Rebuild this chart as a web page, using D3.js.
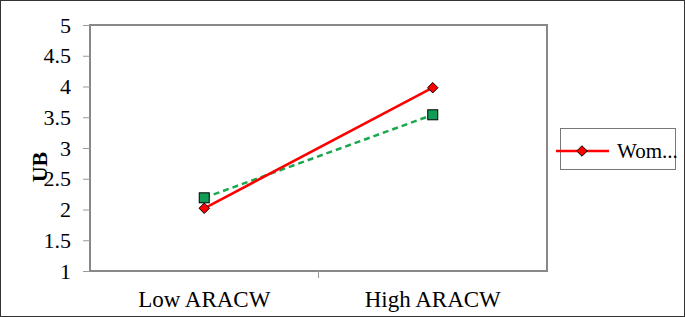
<!DOCTYPE html>
<html>
<head>
<meta charset="utf-8">
<script src="https://cdn.jsdelivr.net/npm/d3@7"></script>
<style>
  body { margin: 0; background: #fff; }
  svg { display: block; font-family: "Liberation Serif", "Times New Roman", serif; }
</style>
</head>
<body>
<svg width="685" height="317"></svg>
<script>
const categories = ['Low ARACW', 'High ARACW']
const women = [2.02, 3.98]
const men = [2.19, 3.54]
const yTicks = [1, 1.5, 2, 2.5, 3, 3.5, 4, 4.5, 5]

const svg = d3.select('svg')
const width = +svg.attr('width')
const height = +svg.attr('height')

// outer frame
svg.append('rect')
  .attr('x', 0.5).attr('y', 0.5)
  .attr('width', width - 1).attr('height', height - 1)
  .attr('fill', '#fff').attr('stroke', '#333')

const margin = { top: 25, right: 138, bottom: 46, left: 90 }
const innerWidth = width - margin.left - margin.right
const innerHeight = height - margin.top - margin.bottom

const g = svg.append('g')
  .attr('transform', `translate(${margin.left}, ${margin.top})`)

const xScale = d3.scaleBand().domain(categories).range([0, innerWidth])
const yScale = d3.scaleLinear().domain([1, 5]).range([innerHeight, 0])

// plot frame
g.append('rect')
  .attr('width', innerWidth).attr('height', innerHeight)
  .attr('fill', '#fff').attr('stroke', '#888').attr('stroke-width', 2)

const yAxis = d3.axisLeft(yScale).tickValues(yTicks).tickSize(7).tickPadding(12)
  .tickFormat(d3.format('~g'))
const yAxisG = g.append('g').call(yAxis)
yAxisG.select('.domain').remove()
yAxisG.selectAll('line').attr('stroke', '#999')
yAxisG.selectAll('text').attr('font-size', 22).attr('fill', '#000')
  .attr('font-family', '"Liberation Serif", serif')

const xAxis = d3.axisBottom(xScale).tickSize(0).tickPadding(20)
const xAxisG = g.append('g').attr('transform', `translate(0, ${innerHeight})`).call(xAxis)
xAxisG.select('.domain').remove()
xAxisG.selectAll('text').attr('font-size', 23).attr('fill', '#000')
  .attr('font-family', '"Liberation Serif", serif')

// category boundary ticks
g.selectAll('.btick').data([innerWidth / 2])
  .enter().append('line')
  .attr('x1', d => d).attr('x2', d => d)
  .attr('y1', innerHeight).attr('y2', innerHeight + 7)
  .attr('stroke', '#999')

g.append('text')
  .attr('transform', `translate(${39 - margin.left}, ${167 - margin.top}) rotate(-90)`)
  .attr('text-anchor', 'middle')
  .attr('dy', '0.35em')
  .attr('font-size', 22).attr('font-weight', 'bold')
  .text('UB')

const xc = d => xScale(d) + xScale.bandwidth() / 2
const line = d3.line().x(d => xc(d[0])).y(d => yScale(d[1]))

const menPts = categories.map((c, i) => [c, men[i]])
const womenPts = categories.map((c, i) => [c, women[i]])

g.append('path').datum(menPts).attr('d', line)
  .attr('fill', 'none').attr('stroke', '#1aa84f').attr('stroke-width', 2.5)
  .attr('stroke-dasharray', '6,4')
g.append('path').datum(womenPts).attr('d', line)
  .attr('fill', 'none').attr('stroke', '#ff0000').attr('stroke-width', 2.5)

g.selectAll('.sq').data(menPts).enter().append('rect')
  .attr('x', d => xc(d[0]) - 5).attr('y', d => yScale(d[1]) - 5)
  .attr('width', 10).attr('height', 10)
  .attr('fill', '#0f9d58').attr('stroke', '#000').attr('stroke-width', 1)

const diamond = d3.symbol().type(d3.symbolDiamond2).size(70)
g.selectAll('.dm').data(womenPts).enter().append('path')
  .attr('d', diamond)
  .attr('transform', d => `translate(${xc(d[0])}, ${yScale(d[1])})`)
  .attr('fill', '#ff0000').attr('stroke', '#000').attr('stroke-width', 1)

// legend
const lg = svg.append('g').attr('transform', 'translate(560, 128)')
lg.append('rect').attr('x', 0.5).attr('y', 0.5).attr('width', 115).attr('height', 41)
  .attr('fill', '#fff').attr('stroke', '#777')
lg.append('line').attr('x1', -4).attr('x2', 49).attr('y1', 23).attr('y2', 23)
  .attr('stroke', '#ff0000').attr('stroke-width', 2.5)
lg.append('path').attr('d', diamond)
  .attr('transform', 'translate(22, 23)')
  .attr('fill', '#ff0000').attr('stroke', '#000').attr('stroke-width', 1)
lg.append('text').attr('x', 57).attr('y', 23).attr('dy', '0.35em')
  .attr('font-size', 21).text('Wom...')
</script>
</body>
</html>
